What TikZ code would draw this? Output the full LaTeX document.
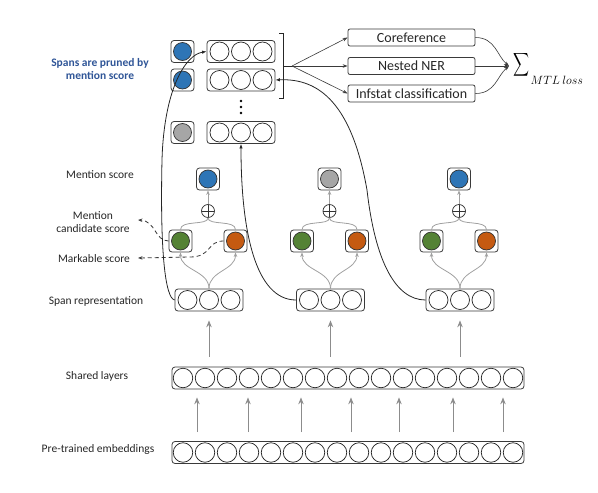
\documentclass[tikz,border=0pt]{standalone}
\usepackage{fontspec}
\usepackage{graphicx}
\setmainfont{Carlito}
\usetikzlibrary{arrows.meta,calc}
\definecolor{cblue}{HTML}{2E75B6}
\definecolor{cgray}{HTML}{A6A6A6}
\definecolor{cgreen}{HTML}{548235}
\definecolor{corange}{HTML}{C55A11}
\definecolor{tblue}{HTML}{2F5597}
\definecolor{boxc}{HTML}{3A3A3A}
\definecolor{lgray}{HTML}{A0A0A0}
\definecolor{agray}{HTML}{8C8C8C}
\definecolor{txt}{HTML}{262626}
\newcommand\spanvec[3]{%
  \node[vbox, minimum width=68pt] (#1) at (#2,#3) {};
  \foreach \k in {1,2,3} \node[cell] (#1c\k) at ({#2+(\k-2)*21.5},#3) {};
}
\newcommand\scorebox[4]{%
  \node[sbox] (#1) at (#2,#3) {};
  \node[dot, fill=#4] (#1d) at (#1) {};
}
\newcommand\scorecol[3]{%
  \scorebox{m#1}{#2}{179}{#3}
  \node[oplus] (p#1) at (#2,211) {};
  \scorebox{g#1}{#2-27.5}{241}{cgreen}
  \scorebox{o#1}{#2+27.5}{241}{corange}
  \spanvec{s#1}{#2+1}{300}
  \draw[gline, garr] (s#1.north) .. controls +(0,-18) and +(0,18) .. (g#1.south);
  \draw[gline, garr] (s#1.north) .. controls +(0,-18) and +(0,18) .. (o#1.south);
  \draw[gline] (g#1.north) .. controls +(0,-10) and +(0,8) .. (p#1.south);
  \draw[gline] (o#1.north) .. controls +(0,-10) and +(0,8) .. (p#1.south);
  \draw[gline, garr] (p#1.north) -- (m#1.south);
}
\begin{document}
\begin{tikzpicture}[x=1pt,y=-1pt,
  font=\fontsize{11.5}{13}\selectfont,
  vbox/.style={draw=boxc, rounded corners=3pt, line width=0.8pt, minimum height=22pt, inner sep=0pt, fill=white},
  sbox/.style={vbox, minimum width=23pt, minimum height=22pt},
  cell/.style={circle, draw=black!85, line width=0.7pt, minimum size=19pt, inner sep=0pt, fill=white},
  dot/.style={circle, draw=black!80, line width=0.7pt, minimum size=18pt, inner sep=0pt},
  oplus/.style={circle, draw=black!80, line width=0.7pt, minimum size=13pt, inner sep=0pt,
    path picture={\draw[black!80, line width=0.7pt] (path picture bounding box.north) -- (path picture bounding box.south) (path picture bounding box.west) -- (path picture bounding box.east);}},
  gline/.style={draw=lgray, line width=0.8pt},
  garr/.style={-{Stealth[length=4.5pt,width=3.5pt]}},
  bigarrow/.style={draw=agray, line width=0.9pt, -{Stealth[length=7pt,width=5.5pt,inset=2.5pt]}},
  blk/.style={draw=txt, line width=0.8pt, -{Latex[length=4.5pt,width=3.5pt]}},
  dark/.style={draw=boxc, line width=0.6pt},
  darr/.style={dark, -{Stealth[length=5pt,width=3.5pt]}},
  dashline/.style={draw=boxc, line width=0.8pt, dash pattern=on 4pt off 3pt, -{Stealth[length=4.5pt,width=3.5pt]}},
  task/.style={draw=boxc, rounded corners=2pt, line width=0.8pt, minimum width=127pt, minimum height=17pt, inner sep=0pt, text=txt, font=\fontsize{14}{15}\selectfont},
  lbl/.style={text=txt, inner sep=0pt, align=center}
]
\useasboundingbox (0,0) rectangle (598,493);

% ---- top: pruned spans
\node[lbl, text=tblue, font=\fontsize{11.5}{13}\selectfont\bfseries] (lpruned) at (100,69) {Spans are pruned by\\mention score};
\scorebox{t1}{182.5}{51.5}{cblue}
\scorebox{t2}{182.5}{80}{cblue}
\scorebox{t3}{182.5}{132.5}{cgray}
\spanvec{r1}{241}{51.5}
\spanvec{r2}{241}{80}
\spanvec{r3}{241}{132.5}
\foreach \yy [count=\n] in {101,107,113} \node[circle, fill=black, inner sep=0pt, minimum size=2.8pt] (vd\n) at (241,\yy) {};

% bracket
\draw[draw=black!85, line width=1pt] (279,33) -- (283,33) -- (283,98) -- (279,98);
\coordinate (fan) at (292,66);
\draw[draw=black!85, line width=1pt] (283,66) -- (fan);

% tasks
\node[task] (coref) at (411.5,37.5) {Coreference};
\node[task] (ner) at (411.5,66) {Nested NER};
\node[task] (inf) at (411.5,93.5) {Infstat classification};
\draw[darr] (fan) -- (coref.west);
\draw[darr] (fan) -- (ner.west);
\draw[darr] (fan) -- (inf.west);

\coordinate (sumtip) at (509,66);
\draw[darr] (coref.east) .. controls +(20,0) and +(-12,-10) .. (sumtip);
\draw[darr] (ner.east) -- (sumtip);
\draw[darr] (inf.east) .. controls +(20,0) and +(-12,10) .. (sumtip);
\node[anchor=north west, inner sep=0pt, text=black] (sum) at (513,52) {\resizebox*{16pt}{26pt}{$\displaystyle\sum$}};
\node[anchor=west, inner sep=0pt, text=black] (sumsub) at (530.5,80) {\fontsize{11.5}{12}\selectfont$MTL\ loss$};

% ---- middle: scoring columns
\scorecol{1}{208}{cblue}
\scorecol{2}{329.5}{cgray}
\scorecol{3}{459}{cblue}

% labels
\node[lbl] (lmention) at (100,175) {Mention score};
\node[lbl] (lmcs) at (93,222) {Mention\\candidate score};
\node[lbl] (lmark) at (94,259) {Markable score};
\node[lbl] (lspan) at (96,301) {Span representation};
\node[lbl] (lshared) at (97,376) {Shared layers};
\node[lbl] (lemb) at (98,449) {Pre-trained embeddings};

% dashed score arrows
\coordinate (mcsend) at (138,220);
\coordinate (mkend) at (138,258);
\coordinate (mkmid) at (190,257);
\draw[dashline] (g1.west) .. controls +(-14,0) and +(18,1) .. (mcsend);
\draw[dashline] (o1.west) .. controls +(-17,0) and +(22,0) .. (mkmid) -- (mkend);

% long black connectors
\draw[blk] (s1.west) .. controls (165,298) and (160,250) .. (162,160) .. controls (164,90) and (185,55) .. (r1.west);
\draw[blk] (s2.west) .. controls (255,300) and (241,230) .. (r3.south);
\draw[blk] (s3.west) .. controls (395,300) and (375,260) .. (367,190) .. controls (352,105) and (320,78) .. (r2.east);

% ---- bottom layers
\node[vbox, minimum width=352pt] (shared) at (348,378) {};
\foreach \i in {0,...,15} \node[cell, minimum size=19.5pt] (sh\i) at (183+\i*22,378) {};
\node[vbox, minimum width=352pt] (emb) at (348,452.5) {};
\foreach \i in {0,...,15} \node[cell, minimum size=19.5pt] (em\i) at (183+\i*22,452.5) {};

\foreach \i in {1,2,3} \draw[bigarrow, shorten <=10pt, shorten >=9pt] (shared.north -| s\i.south) -- (s\i.south);
\foreach \x in {197,248,301,351,399,453,503} {
  \coordinate (ea) at (\x,0);
  \draw[bigarrow, shorten <=9pt, shorten >=8pt] (emb.north -| ea) -- (shared.south -| ea);
}
\end{tikzpicture}
\end{document}
